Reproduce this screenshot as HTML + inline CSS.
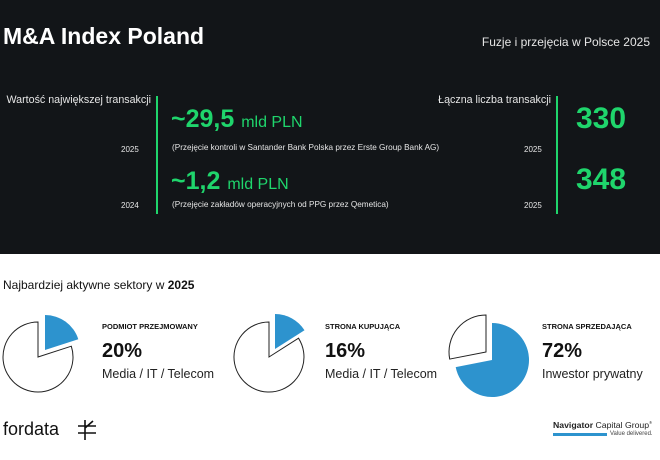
<!DOCTYPE html><html><head><meta charset="utf-8"><style>
body{margin:0;width:660px;height:460px;background:#fff;font-family:"Liberation Sans","DejaVu Sans",sans-serif;position:relative;overflow:hidden}
.t{position:absolute;white-space:nowrap}
.dark{position:absolute;left:0;top:0;width:660px;height:254px;background:#121518}
.g{color:#1fd56c;font-weight:bold}
.w{color:#e6e6e6}
</style></head><body>
<div class="dark"></div>
<div class="t" style="left:3px;top:23px;font-size:23px;font-weight:bold;color:#fff">M&amp;A Index Poland</div>
<div class="t w" style="right:10px;top:35px;font-size:12px">Fuzje i przejęcia w Polsce 2025</div>
<div style="position:absolute;left:156px;top:96px;width:2px;height:118px;background:#1fd56c"></div>
<div style="position:absolute;left:556px;top:96px;width:2px;height:118px;background:#1fd56c"></div>
<div class="t w" style="right:509px;top:94px;font-size:10.7px">Wartość największej transakcji</div>
<div class="t w" style="right:109px;top:94px;font-size:10.7px">Łączna liczba transakcji</div>
<div class="t w" style="left:121px;top:145px;font-size:8px">2025</div>
<div class="t w" style="left:121px;top:201px;font-size:8px">2024</div>
<div class="t w" style="left:524px;top:145px;font-size:8px">2025</div>
<div class="t w" style="left:524px;top:201px;font-size:8px">2025</div>
<div class="t g" style="left:171px;top:105px;font-size:25px">~29,5 <span style="font-size:16px;font-weight:normal">mld PLN</span></div>
<div class="t g" style="left:171px;top:167px;font-size:25px">~1,2 <span style="font-size:16px;font-weight:normal">mld PLN</span></div>
<div class="t w" style="left:172px;top:143px;font-size:8.2px">(Przejęcie kontroli w Santander Bank Polska przez Erste Group Bank AG)</div>
<div class="t w" style="left:172px;top:200px;font-size:8.2px">(Przejęcie zakładów operacyjnych od PPG przez Qemetica)</div>
<div class="t g" style="left:576px;top:102px;font-size:30px">330</div>
<div class="t g" style="left:576px;top:163px;font-size:30px">348</div>
<div class="t" style="left:3px;top:278px;font-size:12px;color:#111">Najbardziej aktywne sektory w <b>2025</b></div>
<svg style="position:absolute;left:0;top:0" width="660" height="460">
<g stroke="#222" stroke-width="1">
<path d="M40,357 L73.3,346.2 A35,35 0 1 1 40,322 Z" fill="#fff" transform="translate(-2,0)"/>
<path d="M45,350 L45,315 A35,35 0 0 1 78.3,339.2 Z" fill="#2d93ce" stroke="none"/>
<path d="M271,357 L300.5,338.2 A35,35 0 1 1 271,322 Z" fill="#fff" transform="translate(-2,0)"/>
<path d="M275,349 L275,314 A35,35 0 0 1 304.5,330.2 Z" fill="#2d93ce" stroke="none"/>
<path d="M492,360 L492,323 A37,37 0 1 1 455.7,367.1 Z" fill="#2d93ce" stroke="none"/>
<path d="M486,352 L449.7,359.1 A37,37 0 0 1 486,315 Z" fill="#fff"/>
</g>
</svg>
<div class="t" style="left:102px;top:322px;font-size:7.5px;font-weight:bold;color:#111">PODMIOT PRZEJMOWANY</div>
<div class="t" style="left:102px;top:340px;font-size:20px;font-weight:bold;color:#111">20%</div>
<div class="t" style="left:102px;top:367px;font-size:12.5px;color:#222">Media / IT / Telecom</div>
<div class="t" style="left:325px;top:322px;font-size:7.5px;font-weight:bold;color:#111">STRONA KUPUJĄCA</div>
<div class="t" style="left:325px;top:340px;font-size:20px;font-weight:bold;color:#111">16%</div>
<div class="t" style="left:325px;top:367px;font-size:12.5px;color:#222">Media / IT / Telecom</div>
<div class="t" style="left:542px;top:322px;font-size:7.5px;font-weight:bold;color:#111">STRONA SPRZEDAJĄCA</div>
<div class="t" style="left:542px;top:340px;font-size:20px;font-weight:bold;color:#111">72%</div>
<div class="t" style="left:542px;top:367px;font-size:12.5px;color:#222">Inwestor prywatny</div>
<div class="t" style="left:3px;top:419px;font-size:18px;color:#111">fordata</div>
<svg style="position:absolute;left:76px;top:418px" width="22" height="24"><g stroke="#111" stroke-width="1.6" fill="none"><path d="M2,8 H20 M2,15 H20 M9,2 V22 M9,10 L17,3"/></g></svg>
<div class="t" style="left:553px;top:420px;font-size:8.7px;color:#222"><b>Navigator</b> Capital Group<sup style="font-size:4px">®</sup></div>
<div style="position:absolute;left:553px;top:433px;width:54px;height:3px;background:#2d93ce"></div>
<div class="t" style="left:610px;top:431px;font-size:6px;color:#444">Value delivered.</div>
</body></html>
